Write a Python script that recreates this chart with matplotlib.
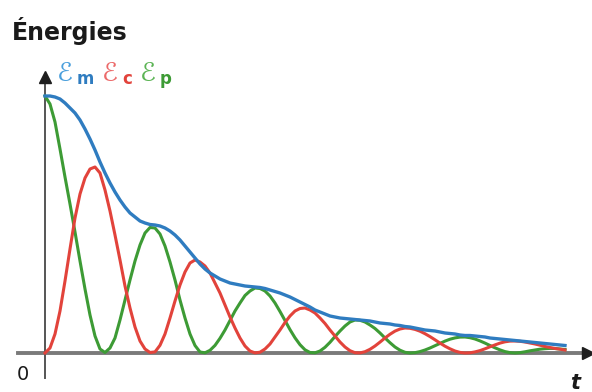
import numpy as np
import matplotlib
matplotlib.use("Agg")
import matplotlib.pyplot as plt

# sampled energies of the damped oscillator, one sample every DT
DT = 0.05

ep = [257, 249, 231, 204, 176, 149, 121, 92, 64, 38,
      17, 4, 0.5, 5, 15, 33, 53, 73, 92, 108,
      120, 125.5, 125, 119, 107, 91, 73, 53, 35, 19,
      7.5, 1, 0.2, 2.7, 7.6, 14.7, 23, 32.5, 42, 50,
      57.5, 62, 65, 64.5, 62, 57, 50, 41.5, 32.5, 23.4,
      15.2, 8.3, 3.2, 0.5, 0.2, 2, 5.7, 10.7, 16.5, 22,
      27, 31, 33, 32.7, 31, 28, 24.5, 20, 15, 10.3,
      6, 2.8, 0.7, 0, 0.35, 1.4, 3, 5, 7.3, 9.6,
      11.9, 13.8, 15.1, 15.9, 16, 15.3, 14, 12.1, 9.9, 7.5,
      5.2, 3.1, 1.4, 0.4, 0, 0.4, 1.2, 2.2, 3, 3.8,
      4.3, 4.6, 4.5, 4, 3.5]

ec = [0, 5, 19, 42, 72, 104, 135, 159, 175, 184,
      186, 180, 163, 142, 118, 93, 67, 45, 26, 12,
      4, 0.5, 1.1, 7.7, 19, 35, 52, 68, 81, 90,
      93, 91, 87, 80, 70, 60, 48, 36, 25, 15,
      7, 2, 0.1, 0.8, 4, 9, 16, 23, 30.5, 37,
      42, 44.5, 45, 43, 40, 35, 29.5, 23, 17, 11,
      6, 2.3, 0.3, 0.1, 1.3, 3.7, 7, 10.9, 15, 18.75,
      21.9, 24, 25, 24.7, 23.6, 21.8, 19.3, 16.4, 13.2, 9.9,
      6.8, 4.2, 2, 0.6, 0, 0.2, 1.1, 2.4, 4.2, 6.2,
      8.1, 9.9, 11.2, 11.9, 12, 11.7, 11, 10, 9, 7.8,
      6.5, 5.5, 4.5, 3.8, 3]

em = [257, 257, 256, 254, 250, 245, 240, 233, 224, 214,
      203, 191, 180, 170, 161, 153, 146, 140, 136, 132,
      130, 128.5, 128, 127, 125, 122, 118, 113, 107, 101,
      95, 89, 84, 80, 77, 74, 72, 70, 69, 68,
      67, 66.5, 66, 65.5, 64.5, 63, 61.5, 60, 58, 56,
      53.5, 51, 48.5, 46, 43, 41, 39, 37, 36, 35,
      34.5, 34, 33.5, 33, 32.5, 32, 31, 30, 29.5, 29,
      28, 27.5, 26.5, 26, 25, 24, 23, 22.5, 22, 21,
      20, 19.5, 19, 18, 17.5, 17.5, 17, 16.5, 16, 15,
      14.5, 14, 13.5, 13, 12.5, 12, 11.5, 11, 10.5, 10,
      9.5, 9, 8.5, 8, 7.5]

t = DT * np.arange(len(ep))

BLUE = "#2f7cc0"
RED = "#e2433b"
GREEN = "#3d9b35"
AXIS = "#7a7a7a"

W, H = 592, 392
fig = plt.figure(figsize=(W / 100, H / 100), dpi=100)
ax = fig.add_axes([45 / W, 39 / H, 547 / W, 300 / H])
ax.set_xlim(0, 5.47)
ax.set_ylim(0, 300)
ax.axis("off")

# axes drawn by hand, with arrow heads
ax.plot([-0.27, 5.40], [0, 0], color=AXIS, lw=2.8, clip_on=False, zorder=1)
ax.plot([5.43], [0], marker=">", ms=9, color="#1e1e1e", clip_on=False, zorder=1)
ax.plot([0, 0], [-25, 272], color="#555555", lw=1.4, clip_on=False, zorder=1)
ax.plot([0], [276], marker="^", ms=9, color="#1e1e1e", clip_on=False, zorder=1)

ax.plot(t, ep, color=GREEN, lw=2.2, clip_on=False, zorder=2)
ax.plot(t, ec, color=RED, lw=2.2, clip_on=False, zorder=3)
ax.plot(t, em, color=BLUE, lw=2.4, clip_on=False, zorder=4)

fig.text(12 / W, 1 - 40 / H, "Énergies", fontsize=17, fontweight="bold",
         va="baseline", color="#1a1a1a")

legend = [("m", BLUE, "#4a9fdc", 57), ("c", RED, "#ec6a6a", 102), ("p", GREEN, "#5cb455", 140)]
for sub, col, light, x in legend:
    fig.text(x / W, 1 - 81 / H, "\u2130", fontsize=19, color=light,
             va="baseline", family=["DejaVu Sans", "Noto Sans"])
    fig.text((x + 20) / W, 1 - 84 / H, sub, fontsize=12, fontweight="bold",
             color=col, va="baseline")

fig.text(17 / W, 1 - 380 / H, "0", fontsize=14, va="baseline", color="#1a1a1a")
fig.text(570 / W, 1 - 389 / H, "t", fontsize=15, fontweight="bold",
         style="italic", va="baseline", color="#1a1a1a")

fig.savefig("out.png", dpi=100)
